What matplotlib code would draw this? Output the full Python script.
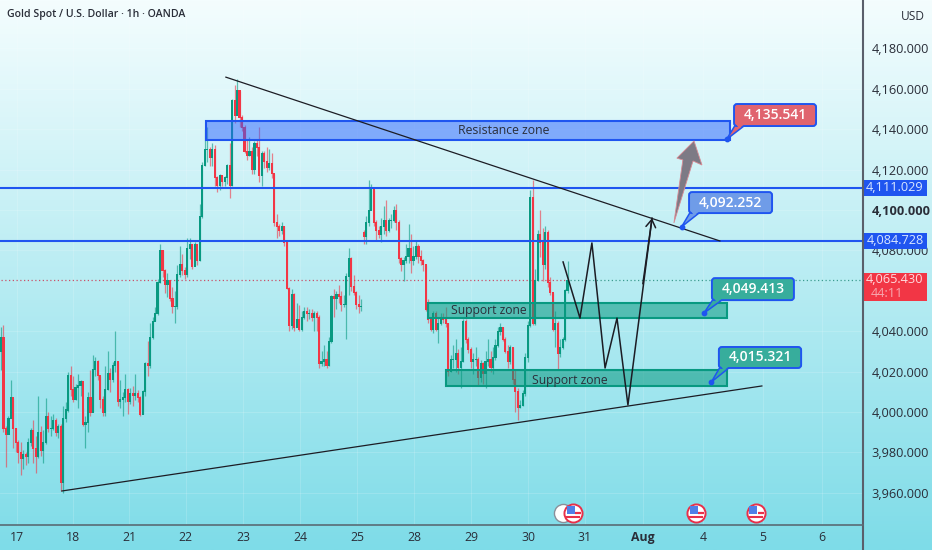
#!/usr/bin/env python3
import numpy as np
import matplotlib
matplotlib.use('Agg')
import matplotlib.pyplot as plt
from matplotlib.colors import LinearSegmentedColormap
from matplotlib.patches import FancyBboxPatch, Polygon, Rectangle

plt.rcParams['font.family'] = ['Open Sans', 'DejaVu Sans']

# hourly candles (open = previous close unless listed in gap_opens)
closes = [
    4037,3992,3989,3997,4007,3992,3985,3980,3977,3979,
    3978,3985,3991,3982,3978,3990,3981,3985,3998,3992,
    3992,3996,3990,3993,3965,3997,4001,4018,4011,4006,
    4012,4013,4015,3994,3995,4007,4000,4021,4025,4018,
    4006,4000,4011,4019,4016,4023,4025,4005,4006,4007,
    4011,4005,4009,4008,4009,4007,3999,4010,4024,4023,
    4037,4045,4049,4064,4080,4070,4063,4065,4056,4052,
    4052,4068,4073,4070,4068,4081,4083,4072,4083,4075,
    4097,4122,4130,4130,4126,4130,4116,4112,4117,4114,
    4116,4122,4112,4154,4147,4159,4146,4141,4129,4127,
    4129,4120,4133,4131,4117,4128,4124,4121,4123,4118,
    4094,4092,4090,4092,4084,4061,4043,4058,4042,4046,
    4041,4047,4050,4049,4049,4047,4049,4047,4024,4025,
    4026,4023,4035,4057,4056,4058,4057,4053,4053,4067,
    4076,4062,4059,4053,4052,4052,4087,4094,4100,4110,
    4094,4090,4088,4092,4095,4090,4095,4095,4100,4094,
    4076,4073,4075,4077,4081,4075,4077,4082,4077,4075,
    4073,4051,4046,4041,4049,4041,4044,4047,4046,4044,
    4020,4026,4026,4029,4022,4025,4045,4036,4031,4025,
    4026,4026,4017,4024,4019,4025,4026,4022,4027,4033,
    4040,4042,4036,4030,4025,4032,4016,4010,4002,4003,
    4009,4027,4043,4106,4044,4065,4088,4084,4073,4089,
    4064,4059,4041,4044,4029,4032,4036,4060,4065,
]
highs = [
    4042,4043,3993,3998,4016,4007,3992,3986,3985,3981,
    3980,3987,3992,3996,3988,4008,3993,3991,4007,4000,
    3998,3999,3997,3994,3994,4003,4005,4020,4023,4018,
    4014,4019,4016,4002,3998,4010,4021,4028,4027,4026,
    4018,4008,4023,4030,4022,4025,4040,4025,4016,4010,
    4019,4012,4012,4013,4019,4011,4008,4011,4025,4035,
    4044,4047,4052,4066,4083,4080,4071,4069,4065,4062,
    4060,4073,4082,4078,4072,4086,4086,4083,4084,4080,
    4103,4124,4140,4141,4131,4133,4132,4117,4118,4117,
    4117,4123,4133,4155,4162,4165,4159,4147,4142,4135,
    4136,4131,4134,4135,4141,4129,4129,4131,4130,4128,
    4118,4098,4093,4094,4092,4085,4062,4061,4059,4054,
    4053,4050,4052,4052,4051,4051,4050,4050,4048,4030,
    4033,4030,4037,4058,4061,4060,4063,4060,4058,4069,
    4081,4077,4068,4060,4058,4056,4090,4097,4115,4113,
    4110,4095,4092,4096,4102,4105,4096,4098,4102,4103,
    4095,4077,4077,4083,4093,4088,4082,4085,4083,4080,
    4076,4073,4056,4047,4050,4050,4047,4049,4049,4052,
    4044,4028,4033,4036,4031,4032,4046,4046,4037,4032,
    4029,4032,4027,4026,4025,4030,4036,4030,4032,4036,
    4042,4044,4042,4037,4033,4033,4032,4021,4012,4006,
    4011,4029,4045,4110,4115,4071,4090,4100,4091,4092,
    4090,4067,4059,4050,4045,4036,4037,4061,4075,
]
lows = [
    4021,3990,3973,3989,3997,3982,3980,3975,3969,3972,
    3974,3975,3983,3975,3970,3977,3978,3975,3984,3990,
    3988,3991,3988,3987,3961,3960,3995,4000,4008,4005,
    4006,4002,4008,3993,3982,3990,3998,4000,4018,4016,
    4002,3998,3998,4011,4010,4015,4020,4003,4002,3998,
    4005,3999,4004,4003,4006,4005,3998,3999,4008,4018,
    4022,4036,4045,4048,4064,4067,4059,4057,4055,4049,
    4044,4051,4067,4068,4066,4067,4076,4071,4073,4073,
    4075,4096,4122,4124,4122,4122,4112,4109,4110,4112,
    4112,4113,4106,4112,4143,4147,4141,4139,4128,4125,
    4127,4118,4118,4127,4114,4112,4121,4119,4120,4116,
    4092,4086,4087,4088,4082,4061,4040,4041,4040,4044,
    4040,4040,4046,4045,4046,4045,4040,4040,4022,4023,
    4023,4022,4023,4034,4047,4051,4054,4050,4052,4036,
    4058,4060,4058,4051,4049,4050,4083,4083,4092,4100,
    4092,4085,4086,4084,4088,4087,4089,4091,4094,4090,
    4074,4070,4065,4074,4074,4069,4073,4076,4074,4073,
    4070,4050,4044,4040,4039,4040,4034,4043,4044,4042,
    4018,4020,4022,4020,4019,4012,4025,4034,4029,4022,
    4019,4023,4013,4015,4014,4012,4023,4020,4019,4026,
    4032,4038,4035,4029,4022,4024,4014,4000,3996,4002,
    4003,4008,4025,4042,4043,4043,4065,4077,4065,4071,
    4062,4058,4040,4032,4021,4027,4031,4035,4059,
]
first_open = 4030
gap_opens = {146: 4089}

# axis labels
day_positions = [6.4,29,51.5,74.4,97.4,120.3,143.3,166.2,189.1,212.1,235,258.4,282.5,306.6,330.4]
day_labels = ['17','18','21','22','23','24','25','28','29','30','31','Aug','4','5','6']
price_ticks = [3960,3980,4000,4020,4040,4080,4100,4120,4140,4160,4180]

# drawings, in (bar, price)
resistance_line = 4111.029
support_line = 4084.728
last_price = 4065.43
upper_trend = ([90.5, 289.3], [4165.8, 4084.7])
lower_trend = ([24.5, 306.2], [3960.9, 4012.9])
forecast_bars = [226.2, 233, 237.8, 243.1, 247.9, 252.3, 262]
forecast_prices = [4074.3, 4046.5, 4083.7, 4021.8, 4046.5, 4003.5, 4096]
up_arrow = [(270.8,4093.6),(274.4,4124.8),(272,4125.7),(278.9,4134.2),(282.1,4122.3),(278.5,4124.3)]
event_bars = [230.2, 279.7, 303.8]

blue = '#1f55f0'
green = '#089981'
red = '#f23645'
text_col = '#2a2e39'

fig = plt.figure(figsize=(9.32, 5.5), dpi=100)

# background gradient runs behind everything, axes strips included
bg = fig.add_axes([0, 0, 1, 1], zorder=0)
cmap = LinearSegmentedColormap.from_list('bg', ['#f4fdfe', '#7edce8'])
bg.imshow(np.linspace(0, 1, 256).reshape(-1, 1), aspect='auto', cmap=cmap)
bg.axis('off')

ax = fig.add_axes([0, 25 / 550, 863 / 932, 525 / 550], zorder=1)
ax.patch.set_alpha(0)
ax.set_xlim(-0.4, 346.9)
ax.set_ylim(3944.06, 4204)
for s in ax.spines.values():
    s.set_visible(False)
ax.grid(color='white', alpha=0.18, lw=0.6)
ax.set_axisbelow(True)

# candles
opens = [first_open] + closes[:-1]
for i, v in gap_opens.items():
    opens[i] = v
bars = np.arange(len(closes))
cols = [green if c >= o else red for o, c in zip(opens, closes)]
ax.vlines(bars, lows, highs, colors=cols, lw=0.9, alpha=0.6, zorder=3)
ax.bar(bars, np.abs(np.subtract(closes, opens)) + 0.5, bottom=np.minimum(opens, closes) - 0.25,
       width=0.85, color=cols, lw=0, zorder=3)

# horizontal levels
ax.axhline(resistance_line, color=blue, lw=1.5, zorder=4)
ax.axhline(support_line, color=blue, lw=1.5, zorder=4)
ax.plot([0, len(closes)], [last_price] * 2, color='#c94f6a', lw=0.9, ls=(0, (1, 2)), zorder=2)
ax.plot([len(closes), 346.9], [last_price] * 2, color='#3d9c90', lw=0.9, ls=(0, (1, 2)), zorder=2)

# zones
ax.add_patch(Rectangle((82.5, 4134.7), 210.9, 9.4, fc=(0.16, 0.38, 1, 0.5), ec=blue, lw=1.5, zorder=5))
ax.add_patch(Rectangle((171.8, 4046.5), 120.4, 7.5, fc=(0.03, 0.6, 0.5, 0.55), ec=green, lw=1.5, zorder=5))
ax.add_patch(Rectangle((179.1, 4012.9), 113.1, 7.9, fc=(0.03, 0.6, 0.5, 0.55), ec=green, lw=1.5, zorder=5))
ax.text(202.5, 4139.6, 'Resistance zone', ha='center', va='center', fontsize=8.8, color=text_col, zorder=6)
ax.text(196.4, 4050.4, 'Support zone', ha='center', va='center', fontsize=8.7, color=text_col, zorder=6)
ax.text(229, 4015.8, 'Support zone', ha='center', va='center', fontsize=8.7, color=text_col, zorder=6)

# trend lines and forecast path
ax.plot(*upper_trend, color='#1c1c24', lw=0.9, zorder=6)
ax.plot(*lower_trend, color='#1c1c24', lw=0.9, zorder=6)
ax.plot(forecast_bars, forecast_prices, color='#1c1c24', lw=1.1, zorder=6)
ax.annotate('', xy=(forecast_bars[-1], forecast_prices[-1]), xytext=(forecast_bars[-2] + 6, forecast_prices[-2] + 60),
            arrowprops=dict(arrowstyle='->,head_length=0.55,head_width=0.35', color='#1c1c24', lw=1.1,
                            shrinkA=0, shrinkB=0), zorder=6)
ax.add_patch(Polygon(up_arrow, closed=True, fc='#7d7a85', ec='#d98a94', lw=0.6, zorder=6))

# callouts: text, colour, box left/right/bottom/top, anchor
callouts = [
    ('4,135.541', '#e0646f', (295, 328, 4141.6, 4152.5), (292, 4135)),
    ('4,092.252', '#6f9ce8', (276.9, 310.3, 4098.5, 4108.9), (273.9, 4091.7)),
    ('4,049.413', '#37ad9c', (286.1, 319.1, 4055.4, 4066.3), (282.9, 4049)),
    ('4,015.321', '#37ad9c', (288.9, 322, 4021.8, 4032.2), (285.9, 4014.9)),
]
for label, col, (left, right, bottom, top), anchor in callouts:
    ax.add_patch(Polygon([(left + 0.5, bottom + 0.5), (left + 4.5, bottom + 0.5), anchor], closed=True,
                         fc=col, ec=blue, lw=1.1, zorder=7))
    ax.add_patch(FancyBboxPatch((left, bottom), right - left, top - bottom,
                                boxstyle='round,pad=0,rounding_size=1.2', mutation_aspect=1.23,
                                fc=col, ec=blue, lw=1.4, zorder=8))
    # cover the seam between pointer and box
    ax.add_patch(Polygon([(left + 0.9, bottom + 0.8), (left + 4.1, bottom + 0.8), (left + 2, bottom - 1.2)], closed=True,
                         fc=col, ec='none', zorder=8))
    ax.text((left + right) / 2, (bottom + top) / 2, label, ha='center', va='center', color='white', fontsize=10,
            fontweight='semibold', zorder=9)
    ax.scatter(*anchor, s=10, color=blue, zorder=9)

# economic event icons along the bottom
ax.scatter(226.2, 3950, s=170, fc='white', ec='#8a8f9a', lw=1, zorder=6)
for b in event_bars:
    ax.scatter(b, 3950, s=170, fc='white', ec='#e8304a', lw=1.4, zorder=7)
    ax.scatter(b + 2, 3950.2, s=16, marker='_', color='#e8304a', lw=1.6, zorder=8)
    ax.scatter(b - 1, 3951.4, s=33, marker='s', color='#4f7fe8', lw=0, zorder=9)
    ax.scatter(b, 3948, s=90, marker='_', color='#e8304a', lw=1.5, zorder=8)

# axes
ax.yaxis.tick_right()
ax.set_yticks(price_ticks)
ax.set_yticklabels([f'{p:,.3f}' for p in price_ticks], fontsize=9.2, color=text_col)
ax.set_xticks(day_positions)
ax.set_xticklabels(day_labels, fontsize=8.8, color=text_col)
ax.tick_params(axis='both', length=0)
ax.tick_params(axis='y', pad=6)
ax.tick_params(axis='x', pad=4)
for t in ax.get_yticklabels():
    if t.get_text() == '4,100.000':
        t.set_fontweight('bold')
for t in ax.get_xticklabels():
    if t.get_text() == 'Aug':
        t.set_fontweight('bold')

# price tags on the axis
tr = ax.get_yaxis_transform()
for level in [resistance_line, support_line]:
    ax.add_patch(Rectangle((1, level - 3.9), 64 / 863, 7.8, transform=tr, fc=blue, ec='none', clip_on=False, zorder=10))
    ax.text(1 + 32 / 863, level, f'{level:,.3f}', transform=tr, ha='center', va='center',
            color='#d8e6ff', fontsize=9.2, clip_on=False, zorder=11)
ax.add_patch(Rectangle((1, 4055), 64 / 863, 13.8, transform=tr, fc=red, ec='none', clip_on=False, zorder=10))
ax.text(1 + 32 / 863, last_price, f'{last_price:,.3f}', transform=tr, ha='center', va='center',
        color='#ffd9dc', fontsize=9.2, clip_on=False, zorder=11)
ax.text(1 + 8 / 863, 4058.8, '44:11', transform=tr, ha='left', va='center',
        color='#f7a6ad', fontsize=9.2, clip_on=False, zorder=11)

# frame lines
x_axis = 863 / 932
fig.add_artist(plt.Line2D([x_axis, x_axis], [0, 1], color='#5a5f6b', lw=1.5))
fig.add_artist(plt.Line2D([0, x_axis], [25 / 550, 25 / 550], color='#5a6b75', lw=1.2))

# header
fig.text(7 / 932, 1 - 15 / 550, 'Gold Spot / U.S. Dollar · 1h · OANDA', fontsize=7.6, fontweight='semibold',
         color=text_col, ha='left', va='center')
fig.text(913 / 932, 1 - 16 / 550, 'USD', fontsize=8.6, color=text_col, ha='center', va='center')

fig.savefig('out.png', dpi=100)
